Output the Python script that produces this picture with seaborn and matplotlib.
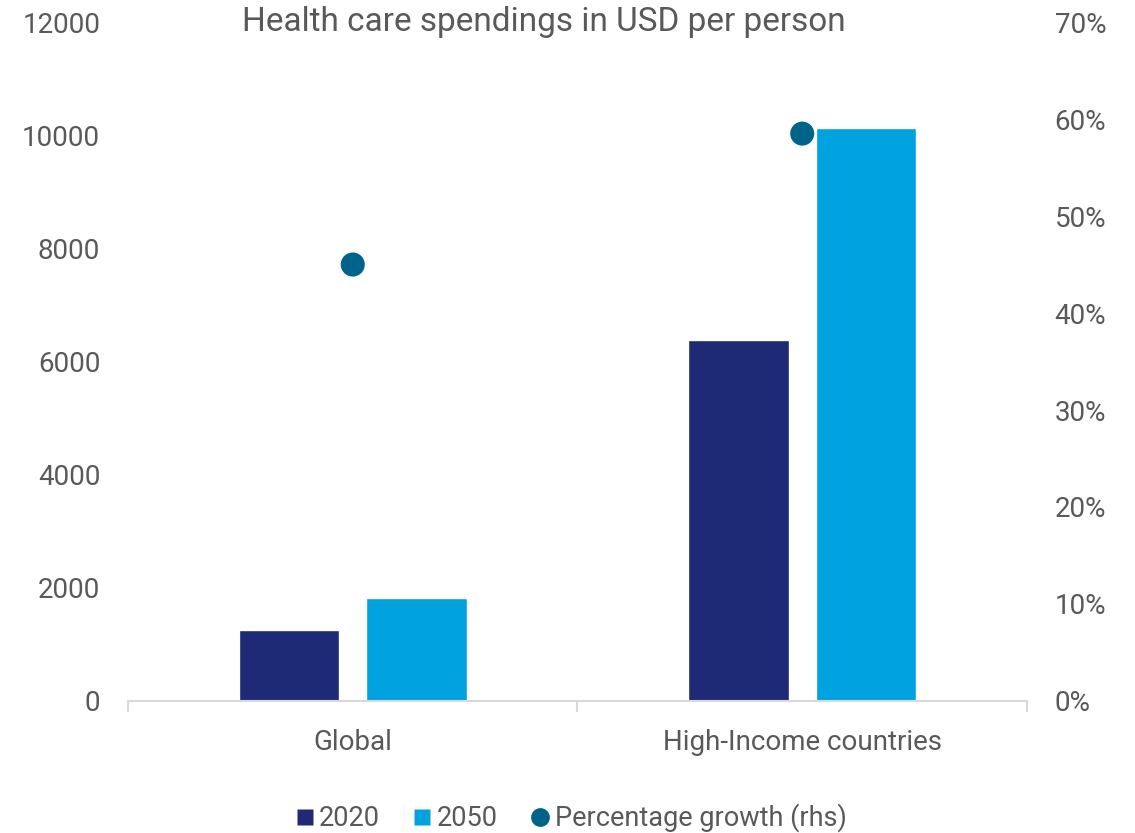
import numpy as np
import pandas as pd
import matplotlib
matplotlib.use("Agg")
import matplotlib.pyplot as plt
from matplotlib.lines import Line2D
from matplotlib.ticker import FuncFormatter
import seaborn as sns

# Data
categories = ["Global", "High-Income countries"]
years = ["2020", "2050"]
spend_2020 = [1250, 6380]
spend_2050 = [1820, 10130]
growth_pct = [45.0, 58.5]

left_ticks = [0, 2000, 4000, 6000, 8000, 10000, 12000]
right_ticks = [0, 10, 20, 30, 40, 50, 60, 70]

title = "Health care spendings in USD per person"
growth_label = "Percentage growth (rhs)"

# Styling
navy = "#1F2A77"
sky = "#00A3E0"
teal = "#00648A"
text_gray = "#595959"
axis_gray = "#D9D9D9"

sns.set_theme(style="white")
plt.rcParams["font.family"] = ["Roboto", "DejaVu Sans"]
plt.rcParams["text.color"] = text_gray

df = pd.DataFrame({
    "category": categories * 2,
    "year": [years[0]] * len(categories) + [years[1]] * len(categories),
    "value": spend_2020 + spend_2050,
})

fig = plt.figure(figsize=(11.35, 8.33), dpi=100)
ax = fig.add_axes([0.1128, 0.1585, 0.792, 0.815])

sns.barplot(data=df, x="category", y="value", hue="year", order=categories,
            hue_order=years, palette=[navy, sky], width=0.568, gap=0.211,
            saturation=1, legend=False, ax=ax)

ax.set_ylim(0, 12000)
ax.set_xlim(-0.5, len(categories) - 0.5)
ax.set_yticks(left_ticks)
ax.set_xlabel("")
ax.set_ylabel("")

for side in ["left", "right", "top"]:
    ax.spines[side].set_visible(False)
ax.spines["bottom"].set_color(axis_gray)
ax.spines["bottom"].set_linewidth(1.5)

ax.tick_params(axis="y", length=0, pad=20, labelsize=20, labelcolor=text_gray)
ax.tick_params(axis="x", which="major", bottom=True, length=0, pad=20,
               labelsize=20, labelcolor=text_gray)
ax.set_xticks(np.arange(-0.5, len(categories)), minor=True)
ax.tick_params(axis="x", which="minor", bottom=True, length=8, width=1.5,
               color=axis_gray)

# Percentage growth on the right-hand axis
ax2 = ax.twinx()
growth_df = pd.DataFrame({"pos": np.arange(len(categories)), "growth": growth_pct})
sns.scatterplot(data=growth_df, x="pos", y="growth", color=teal, s=300,
                edgecolor="none", ax=ax2, zorder=5)
ax2.set_ylim(0, 70)
ax2.set_yticks(right_ticks)
ax2.yaxis.set_major_formatter(FuncFormatter(lambda v, p: f"{v:.0f}%"))
ax2.set_xlim(-0.5, len(categories) - 0.5)
ax2.set_ylabel("")
ax2.set_xlabel("")
for side in ["left", "right", "top", "bottom"]:
    ax2.spines[side].set_visible(False)
ax2.tick_params(axis="y", length=0, pad=20, labelsize=20, labelcolor=text_gray)

fig.text(0.479, 1 - 22 / 833, title, ha="center", va="center",
         fontsize=24, color=text_gray)

handles = [
    Line2D([], [], marker="s", linestyle="none", markersize=11.5,
           markerfacecolor=navy, markeredgecolor="none"),
    Line2D([], [], marker="s", linestyle="none", markersize=11.5,
           markerfacecolor=sky, markeredgecolor="none"),
    Line2D([], [], marker="o", linestyle="none", markersize=13.5,
           markerfacecolor=teal, markeredgecolor="none"),
]
fig.legend(handles, years + [growth_label], loc="center",
           bbox_to_anchor=(0.502, 1 - 818 / 833), ncol=3, frameon=False,
           fontsize=19.5, handletextpad=0.1, columnspacing=1.15,
           handlelength=0.85, labelcolor=text_gray)

fig.savefig("out.png", dpi=100)
